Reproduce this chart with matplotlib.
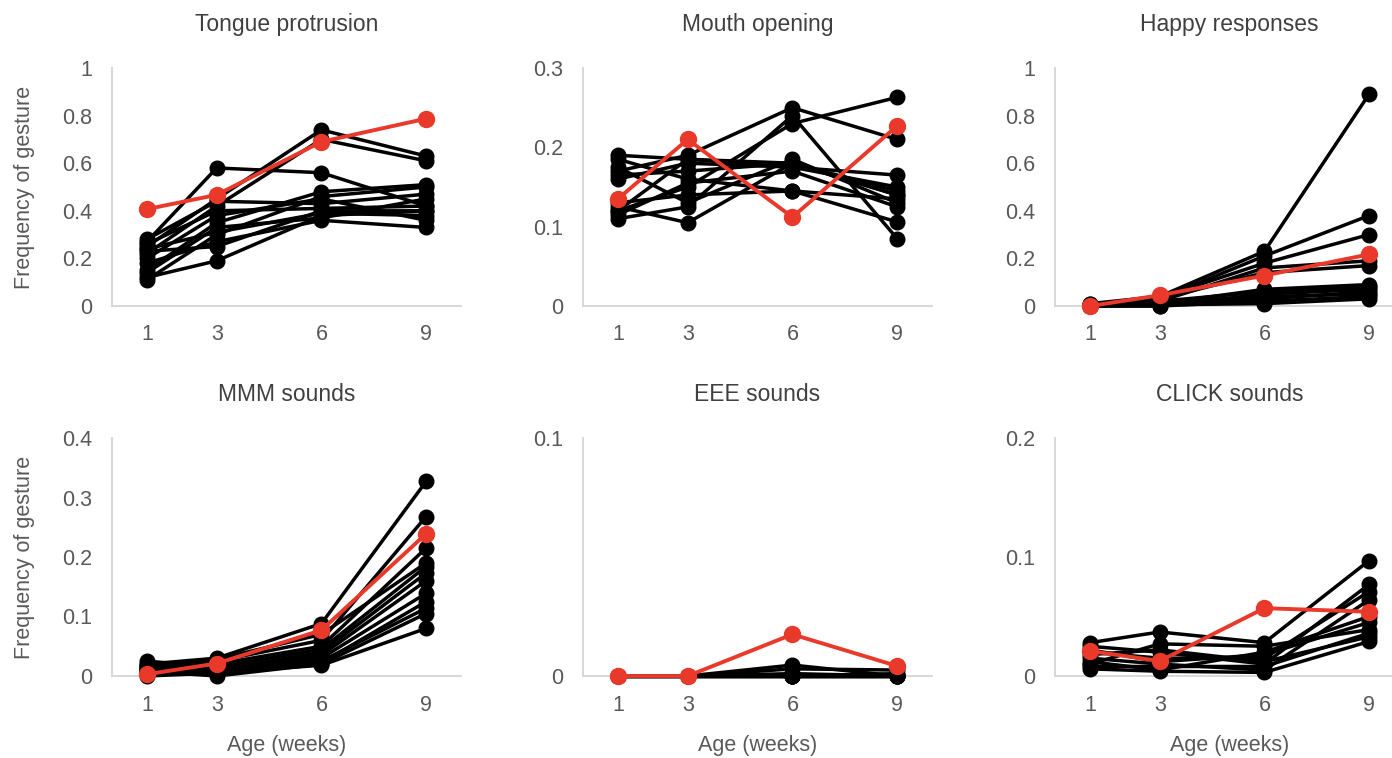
import matplotlib
matplotlib.use("Agg")
import matplotlib.pyplot as plt

plt.rcParams['font.family'] = ['Liberation Sans', 'DejaVu Sans']

weeks = [1, 3, 6, 9]

titles = ["Tongue protrusion", "Mouth opening", "Happy responses",
          "MMM sounds", "EEE sounds", "CLICK sounds"]

ymax = [1.0, 0.3, 1.0, 0.4, 0.1, 0.2]
ytick_step = [0.2, 0.1, 0.2, 0.1, 0.1, 0.1]

tongue_black = [
    [0.27, 0.58, 0.56, 0.42],
    [0.25, 0.45, 0.74, 0.63],
    [0.22, 0.42, 0.70, 0.61],
    [0.12, 0.19, 0.38, 0.40],
    [0.11, 0.30, 0.46, 0.50],
    [0.15, 0.35, 0.48, 0.51],
    [0.26, 0.40, 0.41, 0.42],
    [0.18, 0.27, 0.36, 0.33],
    [0.24, 0.31, 0.39, 0.38],
    [0.28, 0.44, 0.43, 0.47],
    [0.14, 0.33, 0.37, 0.45],
    [0.20, 0.38, 0.45, 0.36],
    [0.23, 0.25, 0.40, 0.40],
]
tongue_red = [0.407, 0.467, 0.69, 0.787]

mouth_black = [
    [0.190, 0.185, 0.180, 0.145],
    [0.170, 0.190, 0.250, 0.210],
    [0.160, 0.180, 0.175, 0.165],
    [0.120, 0.150, 0.230, 0.263],
    [0.110, 0.125, 0.240, 0.085],
    [0.125, 0.105, 0.180, 0.140],
    [0.185, 0.160, 0.145, 0.135],
    [0.130, 0.140, 0.145, 0.106],
    [0.175, 0.130, 0.185, 0.130],
    [0.115, 0.155, 0.170, 0.125],
    [0.165, 0.170, 0.180, 0.140],
    [0.120, 0.185, 0.175, 0.150],
]
mouth_red = [0.135, 0.21, 0.112, 0.227]

happy_black = [
    [0.010, 0.040, 0.23, 0.89],
    [0.000, 0.030, 0.21, 0.38],
    [0.000, 0.035, 0.18, 0.30],
    [0.010, 0.020, 0.16, 0.19],
    [0.000, 0.030, 0.14, 0.17],
    [0.000, 0.010, 0.07, 0.09],
    [0.000, 0.020, 0.06, 0.08],
    [0.000, 0.000, 0.05, 0.07],
    [0.000, 0.010, 0.03, 0.06],
    [0.000, 0.000, 0.02, 0.04],
    [0.005, 0.015, 0.04, 0.05],
    [0.000, 0.005, 0.01, 0.03],
]
happy_red = [0.0, 0.045, 0.128, 0.217]

mmm_black = [
    [0.020, 0.030, 0.088, 0.327],
    [0.015, 0.025, 0.060, 0.268],
    [0.010, 0.020, 0.050, 0.215],
    [0.025, 0.015, 0.045, 0.184],
    [0.005, 0.010, 0.040, 0.173],
    [0.010, 0.008, 0.035, 0.160],
    [0.000, 0.005, 0.030, 0.139],
    [0.012, 0.012, 0.025, 0.114],
    [0.008, 0.000, 0.020, 0.105],
    [0.003, 0.006, 0.018, 0.080],
    [0.018, 0.028, 0.070, 0.190],
    [0.015, 0.010, 0.022, 0.125],
]
mmm_red = [0.003, 0.021, 0.077, 0.239]

eee_black = [
    [0, 0, 0.0046, 0.0],
    [0, 0, 0.0030, 0.0025],
    [0, 0, 0.0, 0.0010],
    [0, 0, 0.0, 0.0],
    [0, 0, 0.0010, 0.0],
    [0, 0, 0.0, 0.0],
    [0, 0, 0.0, 0.0005],
    [0, 0, 0.0, 0.0],
]
eee_red = [0.0, 0.0, 0.0175, 0.0042]

click_black = [
    [0.028, 0.037, 0.028, 0.097],
    [0.025, 0.020, 0.010, 0.077],
    [0.020, 0.015, 0.015, 0.071],
    [0.015, 0.010, 0.005, 0.064],
    [0.012, 0.005, 0.020, 0.050],
    [0.010, 0.027, 0.025, 0.039],
    [0.008, 0.008, 0.008, 0.036],
    [0.006, 0.004, 0.003, 0.029],
    [0.018, 0.022, 0.012, 0.033],
    [0.022, 0.012, 0.018, 0.045],
]
click_red = [0.021, 0.0126, 0.057, 0.054]

black_sets = [tongue_black, mouth_black, happy_black, mmm_black, eee_black, click_black]
red_sets = [tongue_red, mouth_red, happy_red, mmm_red, eee_red, click_red]

W, H = 1392, 758
fig = plt.figure(figsize=(W / 100, H / 100), dpi=100)
fig.patch.set_facecolor("white")

col_left = [112, 583, 1055]
row_top = [68, 438]
ax_w, ax_h = 349, 238

RED = "#e8392b"
SPINE = "#d4d4d4"
TXT = "#595959"

for i in range(6):
    r, c = divmod(i, 3)
    left = col_left[c] / W
    bottom = (H - row_top[r] - ax_h) / H
    ax = fig.add_axes([left, bottom, ax_w / W, ax_h / H])
    ax.set_xlim(0, 10)
    ax.set_ylim(0, ymax[i])
    for s in ["top", "right"]:
        ax.spines[s].set_visible(False)
    for s in ["left", "bottom"]:
        ax.spines[s].set_color(SPINE)
        ax.spines[s].set_linewidth(1.3)
    for ys in black_sets[i]:
        ax.plot(weeks, ys, color="black", lw=2.5, marker="o", ms=10.5,
                clip_on=False, zorder=3)
    ax.plot(weeks, red_sets[i], color=RED, lw=2.8, marker="o", ms=11.5,
            clip_on=False, zorder=4)
    n = int(round(ymax[i] / ytick_step[i]))
    yt = [round(k * ytick_step[i], 2) for k in range(n + 1)]
    ax.set_yticks(yt)
    ax.set_yticklabels([f"{v:g}" for v in yt])
    ax.set_xticks(weeks)
    ax.set_xticklabels([str(w) for w in weeks])
    ax.tick_params(axis="both", length=0, labelsize=15.5, colors=TXT)
    ax.tick_params(axis="y", pad=14)
    ax.tick_params(axis="x", pad=13 if r == 0 else 14)
    ax.set_title(titles[i], fontsize=16.5, color="#404040", pad=27)
    if c == 0:
        ax.text(-0.25, 0.5, "Frequency of gesture", transform=ax.transAxes,
                rotation=90, ha="center", va="center", fontsize=15.5, color=TXT)
    if r == 1:
        ax.text(0.5, -0.29, "Age (weeks)", transform=ax.transAxes,
                ha="center", va="center", fontsize=15.5, color=TXT)

fig.savefig("out.png", dpi=100, facecolor="white")
